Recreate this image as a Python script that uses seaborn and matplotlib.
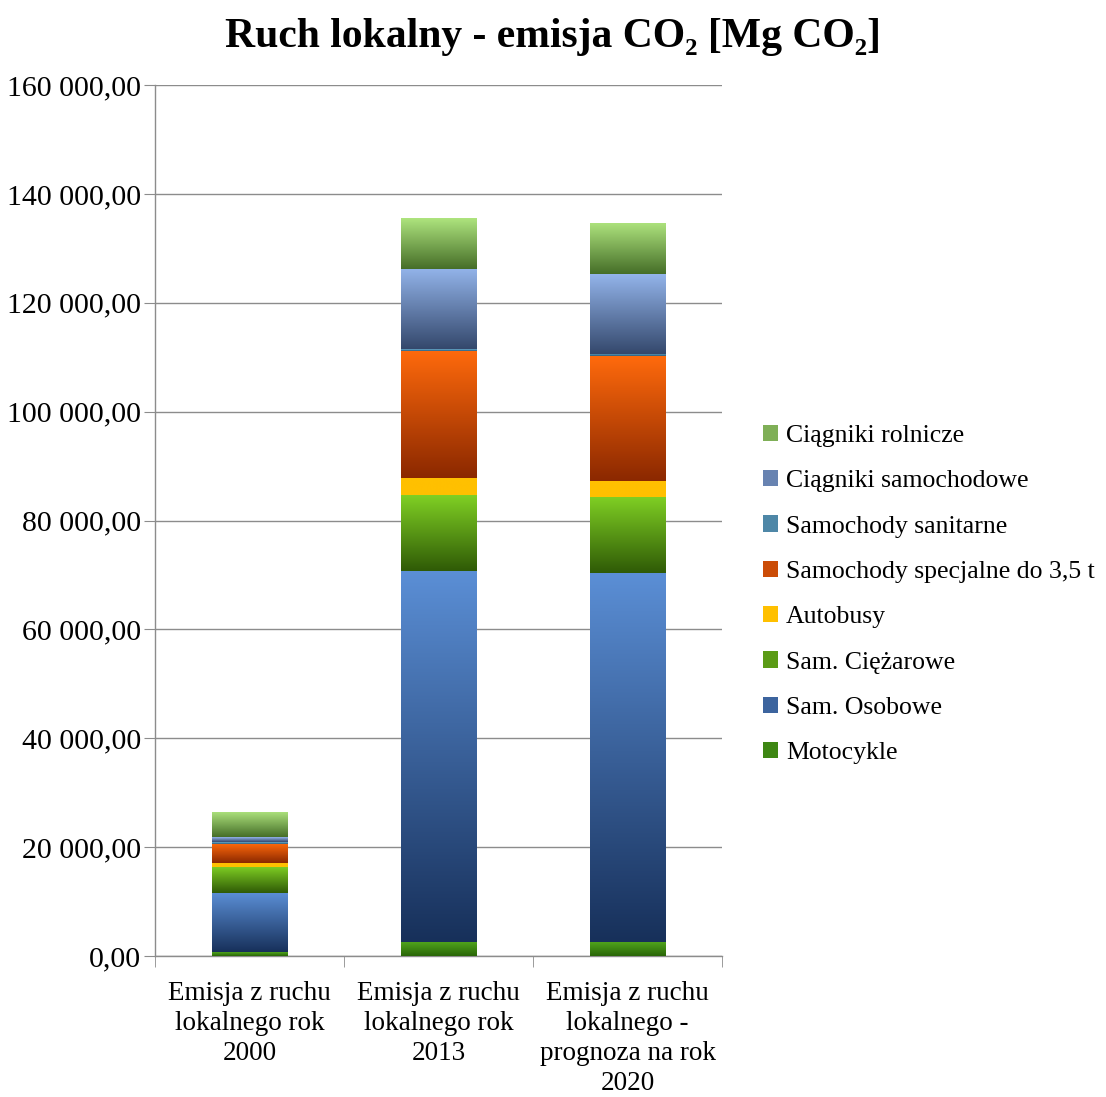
import numpy as np
import pandas as pd
import matplotlib
matplotlib.use("Agg")
import matplotlib.pyplot as plt
import seaborn as sns
from matplotlib.colors import LinearSegmentedColormap
from matplotlib.patches import Patch
from matplotlib.ticker import FuncFormatter, FixedLocator

# data [Mg CO2]
categories = ["Emisja z ruchu\nlokalnego rok\n2000",
              "Emisja z ruchu\nlokalnego rok\n2013",
              "Emisja z ruchu\nlokalnego -\nprognoza na rok\n2020"]
series = ["Motocykle", "Sam. Osobowe", "Sam. Ciężarowe", "Autobusy",
          "Samochody specjalne do 3,5 t", "Samochody sanitarne",
          "Ciągniki samochodowe", "Ciągniki rolnicze"]
motocykle = [700, 2500, 2500]
osobowe = [10900, 68300, 67800]
ciezarowe = [4800, 13900, 14000]
autobusy = [700, 3100, 3000]
specjalne = [3500, 23400, 22900]
sanitarne = [300, 300, 400]
ciagniki_sam = [900, 14700, 14600]
ciagniki_rol = [4700, 9300, 9400]
values = [motocykle, osobowe, ciezarowe, autobusy, specjalne, sanitarne,
          ciagniki_sam, ciagniki_rol]

# (bottom dark, top light) gradient per series
grads = [("#2a6608", "#4fa31c"),
         ("#17305a", "#5b8fd6"),
         ("#2f5a06", "#80d024"),
         ("#ffc000", "#ffc000"),
         ("#8b2800", "#ff6a0c"),
         ("#2c5d7a", "#6aa9cc"),
         ("#34486c", "#93b4ea"),
         ("#466e28", "#aee47e")]

sns.set_style("white")
plt.rcParams["font.family"] = ["Liberation Serif", "DejaVu Serif"]
plt.rcParams["text.color"] = "black"
plt.rcParams["xtick.labelcolor"] = "black"
plt.rcParams["ytick.labelcolor"] = "black"

fig = plt.figure(figsize=(11.06, 10.97), dpi=100)
ax = fig.add_axes([0.140, 0.1285, 0.513, 0.794])

bottom = np.zeros(len(categories))
for name, vals, (c0, c1) in zip(series, values, grads):
    df = pd.DataFrame({"cat": categories, "val": vals})
    n_before = len(ax.patches)
    sns.barplot(data=df, x="cat", y="val", bottom=bottom, width=0.4,
                color=c1, errorbar=None, ax=ax, zorder=3)
    cmap = LinearSegmentedColormap.from_list(name, [c0, c1])
    grad = np.linspace(0, 1, 256).reshape(-1, 1)
    for p in ax.patches[n_before:]:
        x0, y0, w, h = p.get_x(), p.get_y(), p.get_width(), p.get_height()
        p.set_facecolor("none")
        p.set_edgecolor("none")
        im = ax.imshow(grad, extent=[x0, x0 + w, y0, y0 + h], origin="lower",
                       aspect="auto", cmap=cmap, zorder=3)
        im.set_clip_path(p)
    bottom = bottom + np.array(vals)

ax.set_xlim(-0.5, 2.5)
ax.set_ylim(0, 160000)
ax.set_yticks(np.arange(0, 160001, 20000))
ax.yaxis.set_major_formatter(FuncFormatter(
    lambda v, _: f"{v:,.2f}".replace(",", " ").replace(".", ",")))
ax.grid(axis="y", color="#8c8c8c", linewidth=1, zorder=0)
ax.set_axisbelow(True)
ax.set_xlabel("")
ax.set_ylabel("")

for s in ["top", "right"]:
    ax.spines[s].set_visible(False)
for s in ["left", "bottom"]:
    ax.spines[s].set_color("#8c8c8c")
    ax.spines[s].set_linewidth(1)

ax.tick_params(axis="y", length=8, color="#8c8c8c", labelsize=21.5, pad=2, left=True)
ax.tick_params(axis="x", which="major", length=0, labelsize=19.5, pad=18)
ax.xaxis.set_minor_locator(FixedLocator([-0.5, 0.5, 1.5, 2.5]))
ax.tick_params(axis="x", which="minor", length=8, color="#8c8c8c", bottom=True)
for lbl in ax.get_xticklabels():
    lbl.set_linespacing(1.26)

fig.suptitle("Ruch lokalny - emisja CO₂ [Mg CO₂]", fontsize=30,
             fontweight="bold", x=0.5, y=0.984, va="top")

handles = [Patch(facecolor=LinearSegmentedColormap.from_list("m", [c0, c1])(0.55),
                 edgecolor="none") for (c0, c1) in grads]
leg = fig.legend(handles[::-1], series[::-1], loc="center left",
                 bbox_to_anchor=(0.669, 0.458), frameon=False, fontsize=18.5,
                 handlelength=0.6, handleheight=0.6, handletextpad=0.3,
                 labelspacing=0.9)

fig.savefig("out.png", dpi=100)
